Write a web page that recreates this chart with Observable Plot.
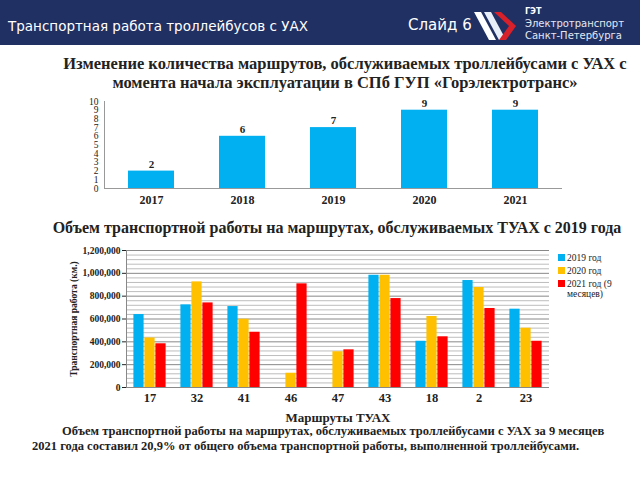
<!DOCTYPE html>
<html><head><meta charset="utf-8">
<script src="https://cdn.jsdelivr.net/npm/d3@7"></script>
<script src="https://cdn.jsdelivr.net/npm/@observablehq/plot@0.6"></script>
<style>
body{margin:0;width:640px;height:480px;overflow:hidden;background:#fff;position:relative;font-family:"Liberation Serif","Times New Roman",serif;}
.abs{position:absolute;white-space:nowrap;}
#header{left:0;top:0;width:640px;height:45px;background:#203062;}
.htext{color:#fff;font-family:"DejaVu Sans",sans-serif;}
.title{font-weight:bold;color:#222;text-align:center;}
.leg{font-size:9.5px;color:#222;line-height:10px;}
.sw{display:inline-block;width:7px;height:7px;margin-right:2px;vertical-align:0px;}
#c1 svg, #c1 svg *, #c2 svg, #c2 svg * {font-family:"Liberation Serif","Times New Roman",serif !important;}
</style></head><body>
<div id="header" class="abs"></div>
<div class="abs htext" style="left:8px;top:18px;font-size:13.5px;">Транспортная работа троллейбусов с УАХ</div>
<div class="abs htext" style="left:408px;top:16px;font-size:15px;">Слайд 6</div>
<svg class="abs" style="left:472px;top:10px" width="50" height="32" viewBox="0 0 50 32">
  <polygon points="2,2 9,2 24,30 17,30" fill="#fff"/>
  <polygon points="12,2 19,2 34,30 27,30" fill="#e8eef8"/>
  <polygon points="22,2 29,2 44,16 37,16" fill="#d8202a"/>
  <polygon points="37,16 44,16 34,30 27,30" fill="#d8202a"/>
</svg>
<div class="abs htext" style="left:525px;top:7px;font-size:8px;font-weight:bold;">ГЭТ</div>
<div class="abs htext" style="left:525px;top:18px;font-size:10px;color:#e4e8f2;">Электротранспорт</div>
<div class="abs htext" style="left:525px;top:30px;font-size:10px;color:#e4e8f2;">Санкт-Петербурга</div>

<div class="abs title" style="left:40px;width:610px;top:54px;font-size:16.5px;line-height:19px;">Изменение количества маршрутов, обслуживаемых троллейбусами с УАХ с<br>момента начала эксплуатации в СПб ГУП «Горэлектротранс»</div>
<div id="c1" class="abs" style="left:0;top:90px;"></div>
<div class="abs title" style="left:30px;width:614px;top:219px;font-size:16px;">Объем транспортной работы на маршрутах, обслуживаемых ТУАХ с 2019 года</div>
<div id="c2" class="abs" style="left:0;top:240px;"></div>
<div class="abs" style="left:558px;top:253px;">
  <div class="leg"><span class="sw" style="background:#00b0f0"></span>2019 год</div>
  <div class="leg" style="margin-top:3px"><span class="sw" style="background:#ffc000"></span>2020 год</div>
  <div class="leg" style="margin-top:3px"><span class="sw" style="background:#ff0000"></span>2021 год (9<br><span style="margin-left:9px">месяцев)</span></div>
</div>
<div class="abs title" style="left:238px;width:200px;top:410px;font-size:13px;">Маршруты ТУАХ</div>
<div class="abs" style="left:32px;top:424px;font-size:12.5px;font-weight:bold;color:#222;line-height:15px;"><span style="margin-left:30px">Объем транспортной работы на маршрутах, обслуживаемых троллейбусами с УАХ за 9 месяцев</span><br>2021 года составил 20,9% от общего объема транспортной работы, выполненной троллейбусами.</div>

<script>
// Chart 1 data
const years = ["2017","2018","2019","2020","2021"];
const routeCounts = [2, 6, 7, 9, 9];
const yTicks1 = [0,1,2,3,4,5,6,7,8,9,10];

// Chart 2 data
const routes = ["17","32","41","46","47","43","18","2","23"];
const seriesNames = ["2019 год","2020 год","2021 год (9 месяцев)"];
const v2019 = [639000, 724000, 709000, null, null, 983000, 405000, 937000, 686000];
const v2020 = [434000, 925000, 598000, 125000, 313000, 983000, 622000, 876000, 519000];
const v2021 = [383000, 741000, 484000, 908000, 330000, 779000, 444000, 692000, 405000];
const majorTicks = [0, 200000, 400000, 600000, 800000, 1000000, 1200000];
const minorTicks = d3.range(40000, 1200000, 40000).filter(v => v % 200000 !== 0);
const colors = ["#00b0f0", "#ffc000", "#ff0000"];

const serif = "Liberation Serif, Times New Roman, serif";
const d1 = years.map((y, i) => ({year: y, n: routeCounts[i]}));
const c1 = Plot.plot({
  width: 640, height: 120,
  marginLeft: 104, marginRight: 78, marginTop: 11, marginBottom: 22,
  style: {fontFamily: serif, background: "transparent", overflow: "visible", color: "#222"},
  x: {domain: years, paddingInner: 0.5, paddingOuter: 0.25},
  y: {domain: [0, 10]},
  marks: [
    Plot.barY(d1, {x: "year", y: "n", fill: "#00b0f0"}),
    Plot.ruleY([0], {stroke: "#999"}),
    Plot.frame({anchor: "left", stroke: "#999"}),
    Plot.text(d1, {x: "year", y: "n", text: d => String(d.n), dy: -7, fontWeight: "bold", fontSize: 11, fontFamily: serif}),
    Plot.axisY({ticks: yTicks1, tickSize: 0, tickPadding: 6, fontSize: 9.5, fontFamily: serif, label: null}),
    Plot.axisX({tickSize: 0, tickPadding: 7, fontSize: 12, fontWeight: "bold", fontFamily: serif, label: null})
  ]
});
document.getElementById("c1").appendChild(c1);

const table = routes.flatMap((r, i) => [
  {route: r, series: seriesNames[0], v: v2019[i]},
  {route: r, series: seriesNames[1], v: v2020[i]},
  {route: r, series: seriesNames[2], v: v2021[i]}
]).filter(d => d.v != null);

const c2 = Plot.plot({
  width: 640, height: 170,
  marginLeft: 122, marginRight: 88, marginTop: 10, marginBottom: 23,
  style: {fontFamily: serif, background: "transparent", overflow: "visible", color: "#222"},
  fx: {domain: routes, padding: 0, label: null},
  x: {domain: seriesNames, paddingInner: 0, paddingOuter: 0.575, axis: null},
  y: {domain: [0, 1200000]},
  color: {domain: seriesNames, range: colors},
  marks: [
    Plot.ruleY(minorTicks, {stroke: "#bdbdbd"}),
    Plot.ruleY(majorTicks, {stroke: "#888"}),
    Plot.barY(table, {fx: "route", x: "series", y: "v", fill: "series", insetLeft: 0.4, insetRight: 0.4}),
    Plot.frame({anchor: "left", facetAnchor: "left", stroke: "#888"}),
    Plot.axisY({ticks: majorTicks, tickFormat: d3.format(","), tickSize: 4, tickPadding: 2, fontSize: 9.5, fontFamily: serif,
      label: "Транспортная работа (км.)", labelAnchor: "center", labelArrow: "none", labelOffset: 56, fontWeight: "bold"}),
    Plot.axisFx({anchor: "bottom", tickSize: 0, tickPadding: 6, fontSize: 12.5, fontWeight: "bold", fontFamily: serif, label: null})
  ]
});
document.getElementById("c2").appendChild(c2);
</script>
</body></html>
